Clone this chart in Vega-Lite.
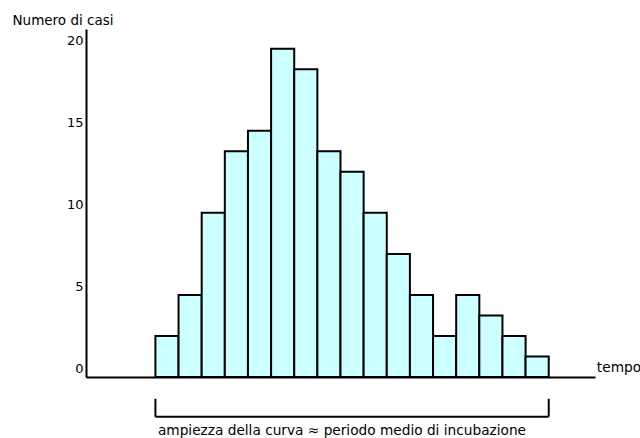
{
  "$schema": "https://vega.github.io/schema/vega-lite/v6.json",
  "autosize": {"type": "none"},
  "padding": {"left": 86, "top": 29, "right": 45, "bottom": 61},
  "width": 509,
  "height": 348,
  "background": "white",
  "config": {
    "view": {"stroke": null},
    "font": "DejaVu Sans"
  },
  "datasets": {
    "bars": [
      {"t": 3, "t2": 4, "n": 2.5},
      {"t": 4, "t2": 5, "n": 5},
      {"t": 5, "t2": 6, "n": 10},
      {"t": 6, "t2": 7, "n": 13.75},
      {"t": 7, "t2": 8, "n": 15},
      {"t": 8, "t2": 9, "n": 20},
      {"t": 9, "t2": 10, "n": 18.75},
      {"t": 10, "t2": 11, "n": 13.75},
      {"t": 11, "t2": 12, "n": 12.5},
      {"t": 12, "t2": 13, "n": 10},
      {"t": 13, "t2": 14, "n": 7.5},
      {"t": 14, "t2": 15, "n": 5},
      {"t": 15, "t2": 16, "n": 2.5},
      {"t": 16, "t2": 17, "n": 5},
      {"t": 17, "t2": 18, "n": 3.75},
      {"t": 18, "t2": 19, "n": 2.5},
      {"t": 19, "t2": 20, "n": 1.25}
    ],
    "bracket": [
      {"a": 3, "a2": 20, "b": -2.42, "b2": -2.42},
      {"a": 3, "a2": 3, "b": -1.33, "b2": -2.42},
      {"a": 20, "a2": 20, "b": -1.33, "b2": -2.42}
    ],
    "labels": [
      {"a": 22.08, "b": 0.55, "label": "tempo"},
      {"a": 3.11, "b": -3.3, "label": "ampiezza della curva ≈ periodo medio di incubazione"}
    ]
  },
  "layer": [
    {
      "data": {"name": "bars"},
      "mark": {"type": "bar", "fill": "#CCFFFF", "stroke": "black", "strokeWidth": 2},
      "encoding": {
        "x": {"field": "t", "type": "quantitative", "scale": {"domain": [0, 22], "nice": false, "zero": false},
              "axis": {"labels": false, "ticks": false, "grid": false, "domainColor": "black", "domainWidth": 2, "title": null}},
        "x2": {"field": "t2"},
        "y": {"field": "n", "type": "quantitative", "scale": {"domain": [0, 21.2], "nice": false},
              "axis": {"values": [0, 5, 10, 15, 20], "ticks": false, "grid": false, "domainColor": "black", "domainWidth": 2,
                       "labelFont": "DejaVu Sans", "labelFontSize": 13, "labelColor": "black", "labelPadding": 3,
                       "labelBaseline": "middle", "labelOffset": -8.5, "labelFlush": false,
                       "title": "Numero di casi", "titleAngle": 0, "titleAlign": "left", "titleBaseline": "middle",
                       "titleX": -74, "titleY": -9, "titleFont": "DejaVu Sans", "titleFontSize": 13.5,
                       "titleFontWeight": "normal", "titleColor": "black"}},
        "y2": {"datum": 0}
      }
    },
    {
      "data": {"name": "bracket"},
      "mark": {"type": "rule", "color": "black", "strokeWidth": 2},
      "encoding": {
        "x": {"field": "a", "type": "quantitative", "scale": {"domain": [0, 22], "nice": false, "zero": false}},
        "x2": {"field": "a2"},
        "y": {"field": "b", "type": "quantitative", "scale": {"domain": [0, 21.2], "nice": false}},
        "y2": {"field": "b2"}
      }
    },
    {
      "data": {"name": "labels"},
      "mark": {"type": "text", "align": "left", "baseline": "middle", "font": "DejaVu Sans", "fontSize": 13.7, "color": "black"},
      "encoding": {
        "x": {"field": "a", "type": "quantitative", "scale": {"domain": [0, 22], "nice": false, "zero": false}},
        "y": {"field": "b", "type": "quantitative", "scale": {"domain": [0, 21.2], "nice": false}},
        "text": {"field": "label"}
      }
    }
  ]
}
